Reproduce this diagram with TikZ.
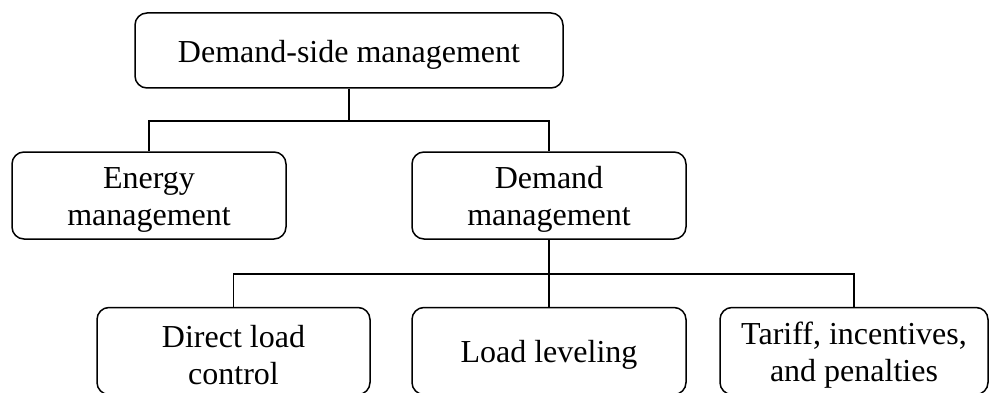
\documentclass[tikz,border=0pt]{standalone}
\usepackage{fontspec}
\setmainfont{Liberation Serif}
\begin{document}
\begin{tikzpicture}[x=1pt,y=-1pt,
  box/.style={draw, rounded corners=12pt, line width=1.5pt, minimum height=87pt, inner sep=0pt},
  txt/.style={align=center, inner sep=0pt, font=\fontsize{32}{37}\selectfont},
  conn/.style={line width=1.6pt}]
\useasboundingbox (0,0) rectangle (990,393);
\node[box, minimum width=428pt, minimum height=75pt] (dsm) at (349,50.5) {};
\node[box, minimum width=274pt] (em) at (149,195.5) {};
\node[box, minimum width=274pt] (dm) at (549,195.5) {};
\node[box, minimum width=273pt] (dlc) at (233.5,351) {};
\node[box, minimum width=274pt] (ll) at (549,351) {};
\node[box, minimum width=268pt] (tip) at (854,351) {};
\node[txt] (dsmt) at ([shift={(0,4)}]dsm.center) {Demand-side management};
\node[txt] (emt) at ([shift={(0,4)}]em.center) {Energy\\management};
\node[txt] (dmt) at ([shift={(0,4)}]dm.center) {Demand\\management};
\node[txt] (dlct) at ([shift={(0,4)}]dlc.center) {Direct load\\control};
\node[txt] (llt) at ([shift={(0,4)}]ll.center) {Load leveling};
\node[txt] (tipt) at ([shift={(0,4)}]tip.center) {Tariff, incentives,\\and penalties};
\draw[conn] (dsm.south) -- ++(0,32) -| (em.north);
\draw[conn] (dsm.south) -- ++(0,32) -| (dm.north);
\draw[conn] (dm.south) -- ++(0,34) -| (dlc.north);
\draw[conn] (dm.south) -- (ll.north);
\draw[conn] (dm.south) -- ++(0,34) -| (tip.north);
\end{tikzpicture}
\end{document}
